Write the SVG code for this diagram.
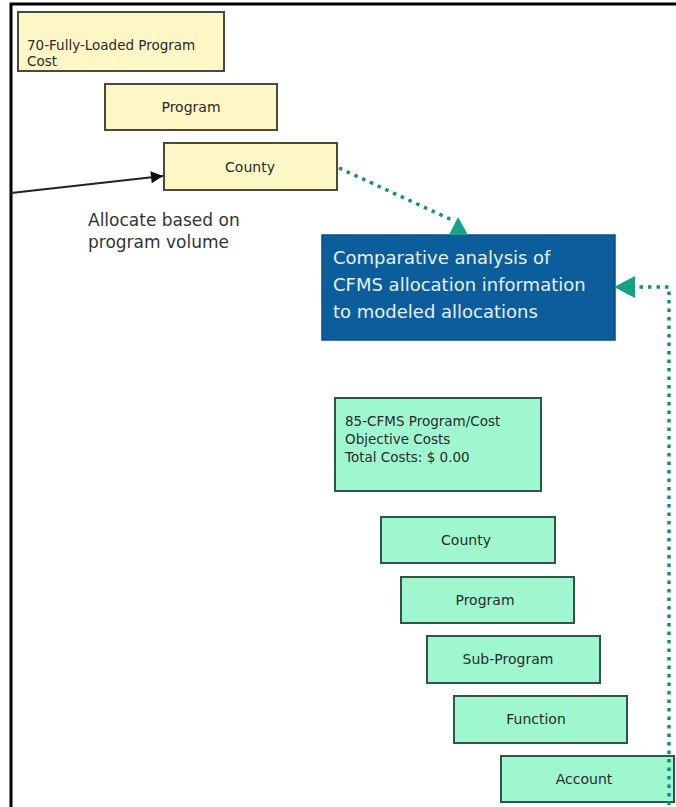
<svg xmlns="http://www.w3.org/2000/svg" width="676" height="807" viewBox="0 0 676 807">
<defs>
<style>
.y{fill:#fdf7c6;stroke:#4a4a3c;stroke-width:2}
.g{fill:#9ff7d0;stroke:#2f5548;stroke-width:2}
.t{font-family:"DejaVu Sans",Verdana,sans-serif;font-size:14px;fill:#2a2a2a}
.s{font-size:13.5px}
.tc{text-anchor:middle}
.dot{fill:none;stroke:#17917f;stroke-width:3.5;stroke-dasharray:3.5 5}
.ah{fill:#17a08a}
</style>
<marker id="blk" viewBox="0 0 10 10" refX="10" refY="5" markerWidth="16" markerHeight="12" markerUnits="userSpaceOnUse" orient="auto"><path d="M0,0 L10,5 L0,10 z" fill="#111"/></marker>
</defs>
<rect width="676" height="807" fill="#fff"/>
<path d="M11,807 V4 H676" fill="none" stroke="#000" stroke-width="3"/>

<g id="n-fully-loaded"><rect class="y" x="18" y="12" width="206" height="59"/><text class="t s" x="27" y="50">70-Fully-Loaded Program</text><text class="t s" x="27" y="66">Cost</text></g>
<g id="n-program-y"><rect class="y" x="105" y="84" width="172" height="46"/><text class="t tc" x="191" y="112">Program</text></g>
<g id="n-county-y"><rect class="y" x="164" y="143" width="173" height="47"/><text class="t tc" x="250" y="172">County</text></g>

<g id="n-comparative"><rect x="322" y="235" width="293" height="105" fill="#0b5d9b" stroke="#0a4f85" stroke-width="1.5"/>
<text font-family="DejaVu Sans,Verdana,sans-serif" font-size="18px" fill="#e6f2fb"><tspan x="333" y="264">Comparative analysis of</tspan><tspan x="333" y="291">CFMS allocation information</tspan><tspan x="333" y="318">to modeled allocations</tspan></text></g>

<g id="n-cfms"><rect class="g" x="335" y="398" width="206" height="93"/><text class="t s" x="345" y="426">85-CFMS Program/Cost</text><text class="t s" x="345" y="444">Objective Costs</text><text class="t s" x="345" y="462">Total Costs: $ 0.00</text></g>
<g id="n-county-g"><rect class="g" x="381" y="517" width="174" height="46"/><text class="t tc" x="466" y="545">County</text></g>
<g id="n-program-g"><rect class="g" x="401" y="577" width="173" height="46"/><text class="t tc" x="485" y="605">Program</text></g>
<g id="n-subprogram"><rect class="g" x="427" y="636" width="173" height="47"/><text class="t tc" x="508" y="664">Sub-Program</text></g>
<g id="n-function"><rect class="g" x="454" y="696" width="173" height="47"/><text class="t tc" x="536" y="724">Function</text></g>
<g id="n-account"><rect class="g" x="501" y="756" width="173" height="46"/><text class="t tc" x="584" y="784">Account</text></g>

<g id="connectors">
<line x1="11" y1="193" x2="163" y2="176" stroke="#222" stroke-width="2" marker-end="url(#blk)"/>
<text font-family="DejaVu Sans,Verdana,sans-serif" font-size="17px" fill="#333"><tspan x="88" y="226">Allocate based on</tspan><tspan x="88" y="248">program volume</tspan></text>
<path class="dot" d="M339,168 L452,220"/>
<polygon class="ah" points="458,217 449,235 468,235"/>
<path class="dot" d="M669,805 V287 H636"/>
<polygon class="ah" points="614,287 635,276 635,298"/>
</g>
</svg>
